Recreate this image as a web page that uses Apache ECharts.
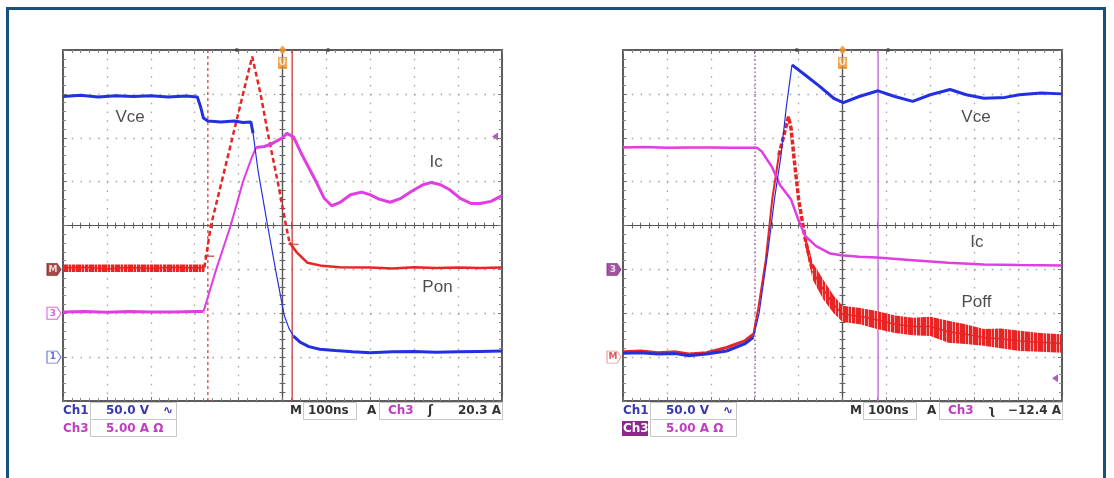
<!DOCTYPE html>
<html>
<head>
<meta charset="utf-8">
<script src="https://cdn.jsdelivr.net/npm/echarts@6/dist/echarts.min.js"></script>
<style>
html, body { margin: 0; padding: 0; background: #fff; }
#chart { width: 1114px; height: 478px; }
</style>
</head>
<body>
<div id="chart"></div>
<script>
// all values in scope divisions: x 0..10 (100 ns/div), y -4..4 (screen centre = 0)

// ---- left panel: turn-on ----
const leftVce = [[0,2.94],[0.4,2.97],[0.8,2.93],[1.2,2.96],[1.6,2.94],[2.0,2.96],[2.4,2.93],[2.8,2.95],[3.06,2.93],[3.13,2.72],[3.2,2.45],[3.3,2.38],[3.6,2.36],[3.9,2.38],[4.1,2.35],[4.28,2.36],[4.33,2.1]]
const leftVceEdge = [[4.33,2.1],[4.44,1.27],[4.66,0],[4.85,-1.05],[5.04,-2.05],[5.15,-2.35],[5.25,-2.52]]
const leftVceTail = [[5.25,-2.52],[5.4,-2.66],[5.6,-2.76],[5.85,-2.82],[6.2,-2.85],[6.6,-2.88],[7.0,-2.9],[7.5,-2.88],[8.0,-2.87],[8.5,-2.89],[9.0,-2.88],[9.5,-2.87],[10,-2.86]]

const leftIc = [[0,-1.97],[0.5,-1.96],[1,-1.98],[1.5,-1.96],[2,-1.97],[2.5,-1.97],[3.0,-1.96],[3.2,-1.96]]
const leftIcRise = [[3.2,-1.96],[3.49,-1.0],[3.82,0],[4.1,1.0],[4.3,1.55],[4.4,1.78]]
const leftIcTail = [[4.4,1.78],[4.59,1.8],[4.75,1.86],[5.0,2.0],[5.1,2.1],[5.25,2.02],[5.45,1.6],[5.74,1.05],[5.95,0.62],[6.12,0.45],[6.3,0.52],[6.55,0.7],[6.8,0.76],[7.0,0.7],[7.2,0.6],[7.45,0.53],[7.7,0.62],[7.94,0.78],[8.2,0.93],[8.39,0.98],[8.6,0.93],[8.8,0.82],[9.05,0.62],[9.3,0.5],[9.5,0.5],[9.75,0.55],[10,0.68]]

const leftPon = [[0,-0.97],[0.5,-0.95],[1,-0.99],[1.5,-0.96],[2,-0.98],[2.5,-0.95],[3.0,-0.97],[3.22,-0.96]]
const leftPonUpper = [[0,-0.89],[3.22,-0.89]]
const leftPonLower = [[0,-1.06],[3.22,-1.06]]
const leftPonRamp = [[3.22,-0.96],[3.37,0],[3.9,2.17],[4.15,3.2],[4.31,3.85],[4.5,3.0],[4.67,2.08],[4.9,0.95],[5.08,0],[5.16,-0.39]]
const leftPonTail = [[5.16,-0.39],[5.33,-0.62],[5.57,-0.85],[5.9,-0.92],[6.3,-0.95],[7,-0.96],[7.5,-0.98],[8,-0.95],[8.5,-0.97],[9,-0.96],[9.5,-0.97],[10,-0.96]]

const leftCursorDashed = 3.3
const leftCursorSolid = 5.22
const leftCursorTicks = [[3.33,-0.7],[5.25,-0.43]]
const leftArrowLevel = 2.03
const leftTraceNames = ['Vce', 'Ic', 'Pon']
const leftTracePos = [[1.53,2.47],[8.5,1.44],[8.53,-1.42]]
const leftTags = ['M', '3', '1']
const leftTagLevels = [-1, -2, -3]

// ---- right panel: turn-off ----
const rightVce = [[0,-2.91],[0.4,-2.9],[0.8,-2.93],[1.2,-2.92],[1.5,-2.97],[1.9,-2.93],[2.36,-2.86],[2.77,-2.7],[2.97,-2.55]]
const rightVceEdge = [[2.97,-2.55],[3.1,-2.0],[3.3,-0.6],[3.45,0.6],[3.6,1.6],[3.72,2.7],[3.85,3.66]]
const rightVceTail = [[3.85,3.66],[4.15,3.43],[4.48,3.17],[4.8,2.9],[5.02,2.8],[5.38,2.94],[5.81,3.07],[6.19,2.94],[6.6,2.83],[7.0,2.98],[7.45,3.1],[7.82,2.98],[8.22,2.9],[8.7,2.92],[9.03,2.98],[9.52,3.02],[10,3.0]]

const rightIc = [[0,1.78],[0.5,1.79],[1,1.77],[1.5,1.78],[2,1.78],[2.5,1.77],[3.05,1.77],[3.15,1.7],[3.39,1.34],[3.58,0.92],[3.83,0.59],[3.99,0.14],[4.15,-0.24],[4.4,-0.47],[4.72,-0.64],[4.97,-0.68],[5.38,-0.71],[5.78,-0.73],[6.6,-0.79],[7.41,-0.85],[8.22,-0.89],[9.04,-0.9],[10,-0.91]]

const rightPoff = [[0,-2.88],[0.4,-2.86],[0.8,-2.9],[1.2,-2.88],[1.5,-2.93],[1.9,-2.9],[2.36,-2.78],[2.77,-2.63],[2.97,-2.48]]
const rightPoffRise = [[2.97,-2.48],[3.08,-1.9],[3.25,-0.8],[3.4,0.6],[3.55,1.6]]
const rightPoffPeak = [[3.55,1.6],[3.7,2.2],[3.77,2.48],[3.83,2.2],[3.9,1.5],[4.0,0.6],[4.15,-0.3],[4.32,-1.05]]
const rightPoffTail = [[4.32,-1.05],[4.56,-1.45],[4.8,-1.8],[5.0,-2.02],[5.4,-2.07],[5.78,-2.15],[6.2,-2.25],[6.6,-2.3],[7.0,-2.3],[7.41,-2.42],[7.8,-2.48],[8.22,-2.55],[8.6,-2.58],[9.04,-2.63],[9.5,-2.66],[10,-2.69]]
const rightPoffUpper = [[4.15,-0.2],[4.32,-0.85],[4.56,-1.23],[4.8,-1.6],[5.0,-1.83],[5.4,-1.88],[5.78,-1.95],[6.2,-2.05],[6.6,-2.1],[7.0,-2.08],[7.41,-2.17],[7.8,-2.25],[8.22,-2.36],[8.6,-2.35],[9.04,-2.4],[9.5,-2.45],[10,-2.48]]
const rightPoffLower = [[4.15,-0.45],[4.32,-1.23],[4.56,-1.68],[4.8,-2.0],[5.0,-2.2],[5.4,-2.25],[5.78,-2.36],[6.2,-2.45],[6.6,-2.5],[7.0,-2.52],[7.41,-2.67],[7.8,-2.7],[8.22,-2.74],[8.6,-2.8],[9.04,-2.86],[9.5,-2.88],[10,-2.9]]

const rightCursorDotted = 3.01
const rightCursorSolid = 5.81
const rightArrowLevel = -3.48
const rightTraceNames = ['Vce', 'Ic', 'Poff']
const rightTracePos = [[8.04,2.47],[8.06,-0.39],[8.05,-1.76]]
const rightTags = ['3', 'M']
const rightTagLevels = [-1, -3]

const triggerX = 5
const topDots = [3.96, 6.04]

const BLUE = '#2330e0'
const PINK = '#e03ee0'
const RED = '#e82424'

const chart = echarts.init(document.getElementById('chart'), null, { renderer: 'canvas' })

// uneven vertical streaks for the noisy power trace
const stripe = document.createElement('canvas')
stripe.width = 13; stripe.height = 2
const sc = stripe.getContext('2d')
sc.fillStyle = '#e82424'; sc.fillRect(0, 0, 13, 2)
sc.fillStyle = '#f59a9a'; sc.fillRect(3, 0, 1, 2); sc.fillRect(10, 0, 1, 2)
sc.fillStyle = '#fbd0d0'; sc.fillRect(6, 0, 1, 2)

const panelLeft = [63, 623]
const grids = [], xAxes = [], yAxes = []
panelLeft.forEach((left, p) => {
    const rect = { left: left, top: 50, width: 439, height: 351, containLabel: false, outerBoundsMode: 'none' }
    grids.push(Object.assign({}, rect))
    grids.push(Object.assign({}, rect))
    const g = 2 * p
    const border = { show: true, onZero: false, lineStyle: { color: '#5c5c5c', width: 2 } }
    const tick = { show: true, inside: true, length: 4, lineStyle: { color: '#777', width: 1 } }
    const minor = { show: true, splitNumber: 5, length: 3, lineStyle: { color: '#888', width: 1 } }
    const dots = { show: true, lineStyle: { color: '#a3a3a3', width: 1.3, type: [1.5, 7.28] } }
    // frame axes
    xAxes.push({ gridIndex: g, type: 'value', min: 0, max: 10, interval: 1, position: 'bottom', axisLine: border, axisTick: tick, minorTick: minor, axisLabel: { show: false }, splitLine: dots })
    xAxes.push({ gridIndex: g, type: 'value', min: 0, max: 10, interval: 1, position: 'top', axisLine: border, axisTick: tick, minorTick: minor, axisLabel: { show: false }, splitLine: { show: false } })
    // centre cross axes
    const cross = { show: true, onZero: true, onZeroAxisIndex: 4 * p + 2, lineStyle: { color: '#555', width: 1.2 } }
    const ctick = { show: true, inside: false, length: 3, lineStyle: { color: '#666', width: 1 } }
    const cminor = { show: true, splitNumber: 5, length: 3, lineStyle: { color: '#666', width: 1 } }
    xAxes.push({ gridIndex: g + 1, type: 'value', min: -5, max: 5, interval: 1, position: 'bottom', axisLine: cross, axisTick: ctick, minorTick: cminor, axisLabel: { show: false }, splitLine: { show: false } })
    xAxes.push({ gridIndex: g + 1, type: 'value', min: -5, max: 5, interval: 1, position: 'top', axisLine: cross, axisTick: ctick, minorTick: cminor, axisLabel: { show: false }, splitLine: { show: false } })

    yAxes.push({ gridIndex: g, type: 'value', min: -4, max: 4, interval: 1, position: 'left', axisLine: border, axisTick: tick, minorTick: minor, axisLabel: { show: false }, splitLine: dots })
    yAxes.push({ gridIndex: g, type: 'value', min: -4, max: 4, interval: 1, position: 'right', axisLine: border, axisTick: tick, minorTick: minor, axisLabel: { show: false }, splitLine: { show: false } })
    yAxes.push({ gridIndex: g + 1, type: 'value', min: -4, max: 4, interval: 1, position: 'left', axisLine: cross, axisTick: ctick, minorTick: cminor, axisLabel: { show: false }, splitLine: { show: false } })
    yAxes.push({ gridIndex: g + 1, type: 'value', min: -4, max: 4, interval: 1, position: 'right', axisLine: cross, axisTick: ctick, minorTick: cminor, axisLabel: { show: false }, splitLine: { show: false } })
})

function line(p, data, color, width, type, z) {
    return {
        type: 'line', xAxisIndex: 4 * p, yAxisIndex: 4 * p, data: data, symbol: 'none', silent: true,
        lineStyle: { color: color, width: width, type: type || 'solid' }, z: z || 3
    }
}

function band(p, upper, lower, fill) {
    return {
        type: 'custom', xAxisIndex: 4 * p, yAxisIndex: 4 * p, data: [[5, 0]], silent: true, z: 3,
        renderItem: function (params, api) {
            const pts = upper.map(d => api.coord(d)).concat(lower.slice().reverse().map(d => api.coord(d)))
            return { type: 'polygon', shape: { points: pts }, style: { fill: fill } }
        }
    }
}

function vline(p, x, color, width, type) {
    return line(p, [[x, -4], [x, 4]], color, width, type, 2)
}

function labels(p, names, pos) {
    return {
        type: 'scatter', xAxisIndex: 4 * p, yAxisIndex: 4 * p, silent: true, z: 6, clip: false,
        symbolSize: 1, itemStyle: { color: 'rgba(0,0,0,0)' },
        label: { show: true, position: 'inside', formatter: '{b}', color: '#1e1e1e', fontFamily: 'Liberation Sans', fontSize: 17 },
        data: names.map((n, i) => ({ name: n, value: pos[i] }))
    }
}

const tagPath = 'path://M0,0 L10,0 L14,6 L10,12 L0,12 Z'
function tags(p, names, levels, styles) {
    return {
        type: 'scatter', xAxisIndex: 4 * p, yAxisIndex: 4 * p, silent: true, z: 6, clip: false,
        data: names.map((n, i) => ({
            name: n, value: [0, levels[i]], symbol: tagPath, symbolSize: [14, 12], symbolOffset: [-9, 0],
            itemStyle: { color: styles[i][0], borderColor: styles[i][1], borderWidth: 1 },
            label: { show: true, position: 'inside', offset: [-1, 0], formatter: '{b}', color: styles[i][2], fontFamily: 'DejaVu Sans', fontWeight: 'bold', fontSize: 9 }
        }))
    }
}

function decorations(p, arrowLevel) {
    return {
        type: 'scatter', xAxisIndex: 4 * p, yAxisIndex: 4 * p, silent: true, z: 7, clip: false,
        data: [
            { value: [triggerX, 4], symbol: 'diamond', symbolSize: [8, 9], itemStyle: { color: '#f0902a' } },
            { name: 'U', value: [triggerX, 4], symbol: 'rect', symbolSize: [9, 12], symbolOffset: [0, 13], itemStyle: { color: '#f0902a' },
              label: { show: true, position: 'inside', formatter: '{b}', color: '#fff', fontSize: 9, fontWeight: 'bold', fontFamily: 'DejaVu Sans' } },
            { value: [topDots[0], 4], symbol: 'circle', symbolSize: 4, itemStyle: { color: '#444' } },
            { value: [topDots[1], 4], symbol: 'circle', symbolSize: 4, itemStyle: { color: '#444' } },
            { value: [10, arrowLevel], symbol: 'path://M0,5 L8,0 L8,10 Z', symbolSize: [6, 8], symbolOffset: [-7, 0], itemStyle: { color: '#a030b0' } }
        ]
    }
}

const series = [
    // left
    vline(0, leftCursorDashed, '#d83030', 1.2, [3, 3]),
    vline(0, leftCursorSolid, '#c83a3a', 1.3, 'solid'),
    band(0, leftPonUpper, leftPonLower, { image: stripe, repeat: 'repeat' }),
    line(0, leftPon, RED, 1.5),
    line(0, leftPonRamp, RED, 2.5, [5, 3]),
    line(0, leftPonTail, RED, 2.5),
    line(0, leftIc, PINK, 3),
    line(0, leftIcRise, PINK, 2),
    line(0, leftIcTail, PINK, 3),
    line(0, leftVce, BLUE, 3),
    line(0, leftVceEdge, BLUE, 1.2),
    line(0, leftVceTail, BLUE, 3),
    {
        type: 'scatter', xAxisIndex: 0, yAxisIndex: 0, silent: true, z: 5, symbol: 'rect', symbolSize: [10, 1.5],
        itemStyle: { color: '#c83a3a' }, data: leftCursorTicks
    },
    labels(0, leftTraceNames, leftTracePos),
    tags(0, leftTags, leftTagLevels, [['#8e1c1c', '#8e1c1c', '#fff'], ['#fff', '#d040d0', '#d040d0'], ['#fff', '#3a4ad0', '#3a4ad0']]),
    decorations(0, leftArrowLevel),
    // right
    vline(1, rightCursorDotted, '#b040c0', 1.3, [1.5, 2.5]),
    vline(1, rightCursorSolid, '#c060d0', 1.3, 'solid'),
    line(1, rightPoff, RED, 3),
    line(1, rightPoffRise, RED, 2),
    band(1, rightPoffUpper, rightPoffLower, { image: stripe, repeat: 'repeat' }),
    line(1, rightPoffPeak, RED, 3.5, [5, 2]),
    line(1, rightPoffTail, RED, 1.5),
    line(1, rightIc, PINK, 2.5),
    line(1, rightVce, BLUE, 3),
    line(1, rightVceEdge, BLUE, 1.2),
    line(1, rightVceTail, BLUE, 3),
    labels(1, rightTraceNames, rightTracePos),
    tags(1, rightTags, rightTagLevels, [['#8a2a8a', '#8a2a8a', '#fff'], ['#fff', '#e08080', '#d03030']]),
    decorations(1, rightArrowLevel)
]

// scope read-out under each screen
function readout(dx, trigText, edge, ch3Filled) {
    const f = 'bold 12px "DejaVu Sans"'
    const blue = '#3838b0', pink = '#c23cc2', dark = '#333'
    const box = (x, y, w, h) => ({ type: 'rect', shape: { x: x + dx, y: y, width: w, height: h }, style: { fill: '#fff', stroke: '#c8c8c8', lineWidth: 1 } })
    const txt = (x, y, t, c, align) => ({ type: 'text', x: x + dx, y: y, style: { text: t, fill: c, font: f, textAlign: align || 'left', textVerticalAlign: 'middle' } })
    const els = [
        box(90.5, 402.5, 86, 17), box(90.5, 419.5, 86, 17), box(303.5, 402.5, 53, 17), box(379.5, 402.5, 123, 17),
        txt(63, 411, 'Ch1', blue), txt(106, 411, '50.0 V', blue), txt(163, 411, '∿', blue),
        txt(290, 411, 'M', dark), txt(308, 411, '100ns', dark), txt(367, 411, 'A', dark),
        txt(388, 411, 'Ch3', pink), txt(428, 411, edge, dark), txt(501, 411, trigText, dark, 'right'),
        txt(106, 428.5, '5.00 A Ω', pink)
    ]
    if (ch3Filled) {
        els.push({ type: 'rect', shape: { x: 62 + dx, y: 421, width: 26, height: 15 }, style: { fill: '#8a2a8a' } })
        els.push(txt(63, 428.5, 'Ch3', '#fff'))
    } else {
        els.push(txt(63, 428.5, 'Ch3', pink))
    }
    return els
}

chart.setOption({
    backgroundColor: '#fff',
    animation: false,
    grid: grids,
    xAxis: xAxes,
    yAxis: yAxes,
    series: series,
    graphic: [
        { type: 'rect', shape: { x: 7.5, y: 8.5, width: 1097, height: 490 }, style: { fill: 'none', stroke: '#17507a', lineWidth: 3 }, z: 10 }
    ].concat(readout(0, '20.3 A', 'ʃ', false), readout(560, '−12.4 A', 'ʅ', true))
})
</script>
</body>
</html>
